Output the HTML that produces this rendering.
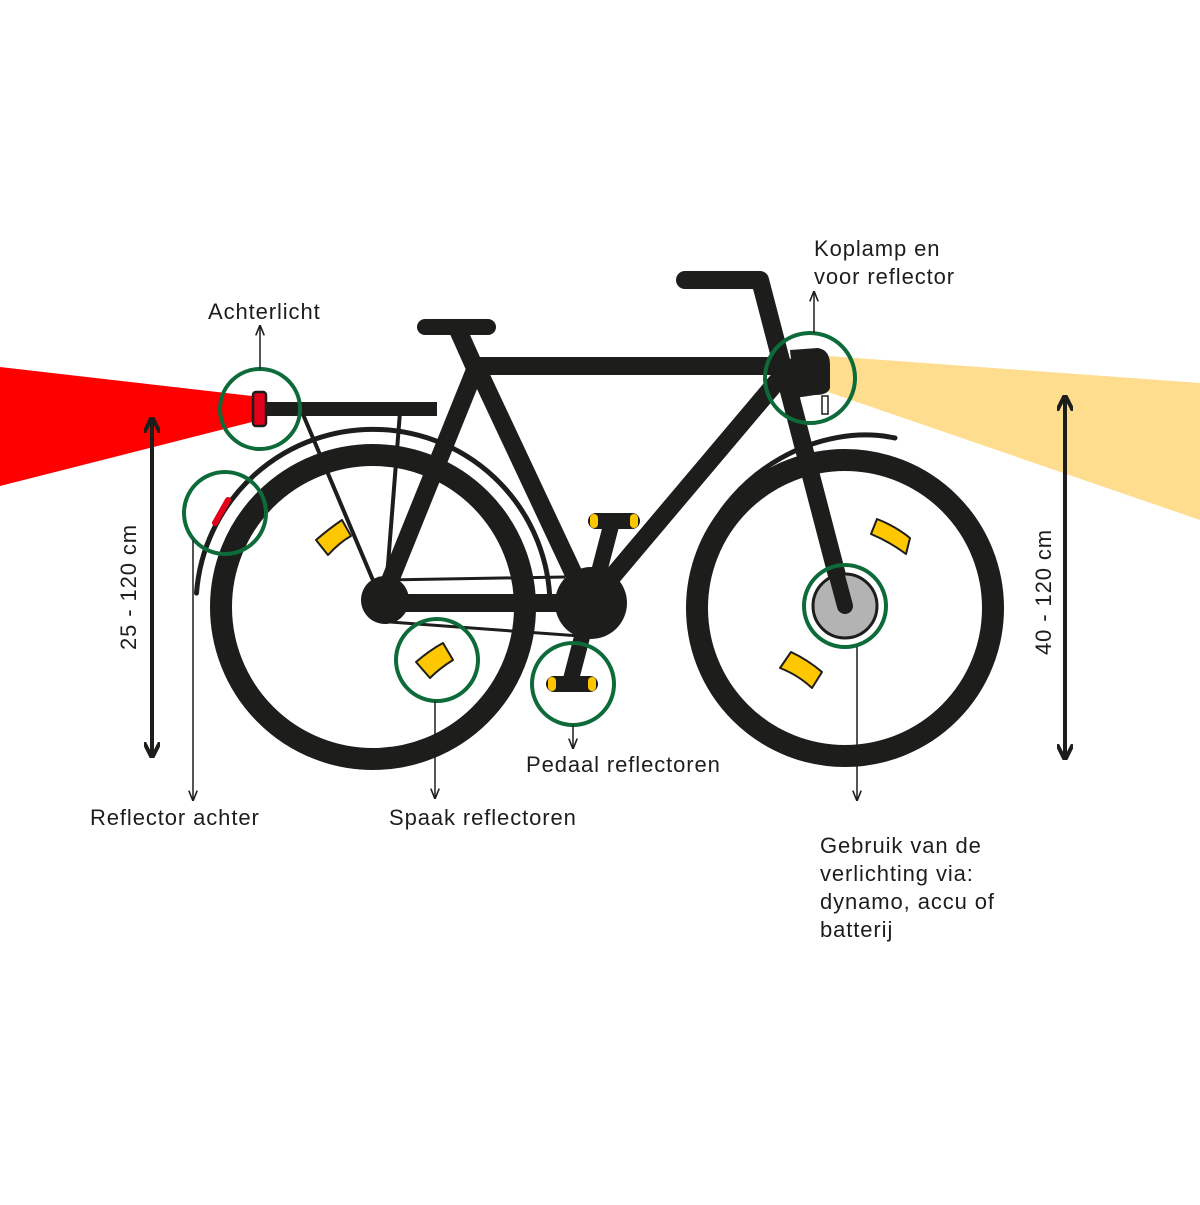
<!DOCTYPE html>
<html><head><style>
body{margin:0;background:#fff}
svg text{font-family:"Liberation Sans",sans-serif;font-size:22px;fill:#1d1d1b;letter-spacing:0.9px}
</style></head><body>
<svg width="1200" height="1200" viewBox="0 0 1200 1200" xmlns="http://www.w3.org/2000/svg">
<defs>
<marker id="ah" viewBox="0 0 10 10" refX="9" refY="5" markerWidth="7" markerHeight="7" orient="auto-start-reverse"><path d="M0,1 L10,5 L0,9" fill="none" stroke="#1d1d1b" stroke-width="1.5"/></marker>
<marker id="big" viewBox="0 0 10 10" refX="8" refY="5" markerWidth="4" markerHeight="4" orient="auto-start-reverse"><path d="M0,0 L10,5 L0,10" fill="none" stroke="#1d1d1b" stroke-width="2.5"/></marker>
</defs>
<polygon points="0,367 252,396 252,422 0,486" fill="#ff0000"/>
<polygon points="828,356 1200,383 1200,520 828,392" fill="#fedd8e"/>
<circle cx="373" cy="607" r="152" fill="none" stroke="#1d1d1b" stroke-width="22"/>
<circle cx="845" cy="608" r="148" fill="none" stroke="#1d1d1b" stroke-width="22"/>
<path d="M196.5,593.1 A177,177 0 0 1 550,605.1" fill="none" stroke="#1d1d1b" stroke-width="5" stroke-linecap="round"/>
<path d="M700,552 C730,470 820,422 895,438" fill="none" stroke="#1d1d1b" stroke-width="5" stroke-linecap="round"/>
<line x1="262" y1="409" x2="437" y2="409" stroke="#1d1d1b" stroke-width="14"/>
<line x1="302" y1="412" x2="375" y2="585" stroke="#1d1d1b" stroke-width="4"/>
<line x1="400" y1="412" x2="386" y2="590" stroke="#1d1d1b" stroke-width="4"/>
<line x1="385" y1="580" x2="565" y2="577" stroke="#1d1d1b" stroke-width="3"/>
<line x1="390" y1="622" x2="580" y2="636" stroke="#1d1d1b" stroke-width="3"/>
<g stroke="#1d1d1b" stroke-width="18" stroke-linecap="round" fill="none">
<line x1="425" y1="327" x2="488" y2="327" stroke-width="16"/>
<line x1="458" y1="330" x2="475" y2="368"/>
<line x1="475" y1="366" x2="785" y2="366"/>
<line x1="475" y1="370" x2="383" y2="598"/>
<line x1="478" y1="370" x2="585" y2="598"/>
<line x1="383" y1="603" x2="590" y2="603"/>
<line x1="785" y1="372" x2="590" y2="603"/>
<polyline points="685,280 760,280 845,606" stroke-linejoin="round"/>
<line x1="612" y1="522" x2="570" y2="683" stroke-width="16"/>
</g>
<circle cx="385" cy="600" r="24" fill="#1d1d1b"/>
<circle cx="591" cy="603" r="36" fill="#1d1d1b"/>
<rect x="588" y="513" width="52" height="16" rx="8" fill="#1d1d1b"/>
<rect x="590" y="514" width="8" height="14" rx="4" fill="#fec700"/><rect x="630" y="514" width="8" height="14" rx="4" fill="#fec700"/>
<rect x="546" y="676" width="52" height="16" rx="8" fill="#1d1d1b"/>
<rect x="548" y="677" width="8" height="14" rx="4" fill="#fec700"/><rect x="588" y="677" width="8" height="14" rx="4" fill="#fec700"/>
<path d="M790,350 L818,348 Q830,350 830,365 L830,388 Q828,395 815,395 L795,398 Z" fill="#1d1d1b"/>
<rect x="822" y="396" width="6" height="18" fill="#fff" stroke="#1d1d1b" stroke-width="1.5"/>
<circle cx="845" cy="606" r="32" fill="#b3b3b3" stroke="#1d1d1b" stroke-width="3"/>
<line x1="830" y1="550" x2="845" y2="606" stroke="#1d1d1b" stroke-width="16" stroke-linecap="round"/>
<rect x="253" y="392" width="13" height="34" rx="3" fill="#e2001a" stroke="#1d1d1b" stroke-width="2.5"/>
<line x1="228" y1="500" x2="215" y2="523" stroke="#e2001a" stroke-width="6" stroke-linecap="round"/>
<g fill="#fec700" stroke="#1d1d1b" stroke-width="2" stroke-linejoin="round">
<path d="M316,540 Q330,528 342,520 L351,536 Q340,542 328,555 Z"/>
<path d="M416,662 Q430,650 443,643 L453,660 Q440,668 430,678 Z"/>
<path d="M877,519 Q895,526 910,538 L906,554 Q890,542 871,534 Z"/>
<path d="M791,652 Q808,660 822,672 L812,688 Q798,675 780,668 Z"/>
</g>
<g fill="none" stroke="#0d6b3a" stroke-width="4">
<circle cx="260" cy="409" r="40"/><circle cx="225" cy="513" r="41"/>
<circle cx="437" cy="660" r="41"/><circle cx="573" cy="684" r="41"/>
<circle cx="810" cy="378" r="45"/><circle cx="845" cy="606" r="41"/>
</g>
<g stroke="#1d1d1b" stroke-width="1.5">
<line x1="260" y1="369" x2="260" y2="326" marker-end="url(#ah)"/>
<line x1="814" y1="333" x2="814" y2="292" marker-end="url(#ah)"/>
<line x1="193" y1="540" x2="193" y2="800" marker-end="url(#ah)"/>
<line x1="435" y1="701" x2="435" y2="798" marker-end="url(#ah)"/>
<line x1="573" y1="725" x2="573" y2="748" marker-end="url(#ah)"/>
<line x1="857" y1="647" x2="857" y2="800" marker-end="url(#ah)"/>
</g>
<line x1="152" y1="420" x2="152" y2="755" stroke="#1d1d1b" stroke-width="4" marker-start="url(#big)" marker-end="url(#big)"/>
<line x1="1065" y1="398" x2="1065" y2="757" stroke="#1d1d1b" stroke-width="4" marker-start="url(#big)" marker-end="url(#big)"/>
<text transform="translate(136,587) rotate(-90)" text-anchor="middle">25 - 120 cm</text>
<text transform="translate(1051,592) rotate(-90)" text-anchor="middle">40 - 120 cm</text>
<text x="208" y="319">Achterlicht</text>
<text x="814" y="256">Koplamp en</text>
<text x="814" y="284">voor reflector</text>
<text x="90" y="825">Reflector achter</text>
<text x="389" y="825">Spaak reflectoren</text>
<text x="526" y="772">Pedaal reflectoren</text>
<text x="820" y="853">Gebruik van de</text>
<text x="820" y="881">verlichting via:</text>
<text x="820" y="909">dynamo, accu of</text>
<text x="820" y="937">batterij</text>
</svg>
</body></html>
